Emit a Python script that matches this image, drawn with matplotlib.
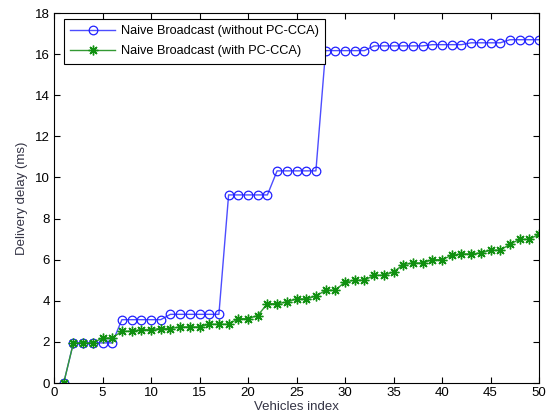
import matplotlib
matplotlib.use("Agg")
import matplotlib.pyplot as plt
import numpy as np

vehicles = list(range(1, 51))
without_pcca = [0.0, 1.95, 1.95, 1.95, 1.95, 1.95,
                3.08, 3.08, 3.08, 3.08, 3.08,
                3.34, 3.34, 3.34, 3.34, 3.34, 3.34,
                9.15, 9.15, 9.15, 9.15, 9.15,
                10.32, 10.32, 10.32, 10.32, 10.32,
                16.17, 16.17, 16.17, 16.17, 16.17,
                16.4, 16.4, 16.4, 16.4, 16.4, 16.4,
                16.46, 16.46, 16.46, 16.46,
                16.55, 16.55, 16.55, 16.55,
                16.7, 16.7, 16.7, 16.7]
with_pcca = [0.0, 1.95, 1.95, 1.95, 2.19, 2.19, 2.52, 2.52, 2.6, 2.6,
             2.65, 2.65, 2.73, 2.73, 2.73, 2.86, 2.86, 2.86, 3.13, 3.13,
             3.28, 3.86, 3.86, 3.94, 4.09, 4.09, 4.23, 4.51, 4.51, 4.92,
             5.0, 5.0, 5.24, 5.24, 5.4, 5.76, 5.84, 5.84, 6.0, 6.0,
             6.21, 6.28, 6.28, 6.33, 6.46, 6.46, 6.75, 6.99, 6.99, 7.24]

xticks = [0, 5, 10, 15, 20, 25, 30, 35, 40, 45, 50]
yticks = [0, 2, 4, 6, 8, 10, 12, 14, 16, 18]

plt.rcParams['font.family'] = ['Liberation Sans', 'DejaVu Sans']

fig = plt.figure(figsize=(5.53, 4.19), dpi=100)
ax = fig.add_axes([54/553, 36/419, (539-54)/553, (383-13)/419])

ax.plot(vehicles, without_pcca, color=(0.3, 0.3, 1.0), lw=1.0, marker='o',
        markersize=6.2, markerfacecolor='none', markeredgecolor='#2020ff', markeredgewidth=0.9,
        label='Naive Broadcast (without PC-CCA)')
ax.plot(vehicles, with_pcca, color=(0.2, 0.6, 0.2), lw=1.0, marker=(8, 2, 0),
        markersize=7, markerfacecolor='#008000', markeredgecolor='#109010', markeredgewidth=1.0,
        label='Naive Broadcast (with PC-CCA)')

ax.set_xlim(0, 50)
ax.set_ylim(0, 18)
ax.set_xticks(xticks)
ax.set_yticks(yticks)
ax.tick_params(direction='in', top=True, right=True, length=4, width=0.8, labelsize=9.5, pad=3)
for s in ax.spines.values():
    s.set_linewidth(0.8)
ax.set_xlabel('Vehicles index', fontsize=9.5, color='#333344', labelpad=1)
ax.set_ylabel('Delivery delay (ms)', fontsize=9.5, color='#333344', labelpad=5)

leg = ax.legend(loc='upper left', bbox_to_anchor=(10/485, 1 - 6/370), fontsize=9.2,
                frameon=True, fancybox=False, edgecolor='black', framealpha=1,
                borderaxespad=0, handlelength=3.5, borderpad=0.5,
                labelspacing=0.62, handletextpad=0.45)
leg.get_frame().set_linewidth(0.8)

fig.savefig('out.png', dpi=100)
